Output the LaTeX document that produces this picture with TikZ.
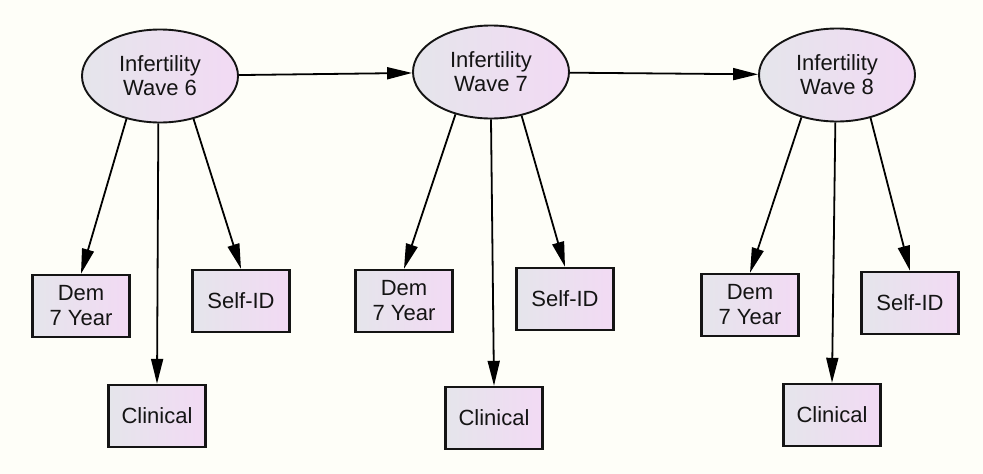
\documentclass[tikz,border=0pt]{standalone}
\usepackage{fontspec}
\setmainfont{Liberation Sans}
\usetikzlibrary{shapes.geometric,arrows.meta,positioning}

\definecolor{bgcream}{RGB}{254,254,248}
\definecolor{fillgray}{RGB}{229,229,235}
\definecolor{fillpink}{RGB}{242,218,244}
\definecolor{inkdark}{RGB}{20,20,20}

\tikzset{
  latent/.style={ellipse, draw=inkdark, line width=1.9pt,
    left color=fillgray, right color=fillpink,
    minimum width=156pt, minimum height=93pt, inner sep=0pt,
    align=center, text=inkdark, font=\fontsize{22}{24}\selectfont},
  indicator/.style={rectangle, draw=inkdark, line width=2.4pt,
    left color=fillgray, right color=fillpink,
    minimum width=97pt, minimum height=62pt, inner sep=0pt,
    align=center, text=inkdark, font=\fontsize{22}{25}\selectfont},
  link/.style={draw=black, line width=1.8pt, -{Triangle[length=25pt,width=12pt]}}
}

\begin{document}
\begin{tikzpicture}[x=1pt,y=-1pt]
  % Background
  \fill[bgcream] (0,0) rectangle (983,474);

  % Latent factors
  \node[latent] (wave6) at (160,76) {Infertility\\Wave 6};
  \node[latent] (wave7) at (491,72) {Infertility\\Wave 7};
  \node[latent] (wave8) at (837,75) {Infertility\\Wave 8};

  % Indicators, wave 6
  \node[indicator] (dem6)  at (81,306)  {Dem\\7 Year};
  \node[indicator] (clin6) at (157,416) {Clinical};
  \node[indicator] (self6) at (241,301) {Self-ID};

  % Indicators, wave 7
  \node[indicator] (dem7)  at (404,301) {Dem\\7 Year};
  \node[indicator] (clin7) at (494,418) {Clinical};
  \node[indicator] (self7) at (565,299) {Self-ID};

  % Indicators, wave 8
  \node[indicator] (dem8)  at (750,305) {Dem\\7 Year};
  \node[indicator] (clin8) at (832,415) {Clinical};
  \node[indicator] (self8) at (910,303) {Self-ID};

  % Stability paths
  \draw[link] (wave6) -- (wave7);
  \draw[link] (wave7) -- (wave8);

  % Loadings
  \draw[link] (wave6.232) -- (dem6.north);
  \draw[link] (wave6.268) -- (clin6.north);
  \draw[link] (wave6.308) -- (self6.north);

  \draw[link] (wave7.230) -- (dem7.north);
  \draw[link] (wave7.south) -- (clin7.north);
  \draw[link] (wave7.305) -- (self7.north);

  \draw[link] (wave8.230) -- (dem8.north);
  \draw[link] (wave8.268) -- (clin8.north);
  \draw[link] (wave8.308) -- (self8.north);
\end{tikzpicture}
\end{document}
